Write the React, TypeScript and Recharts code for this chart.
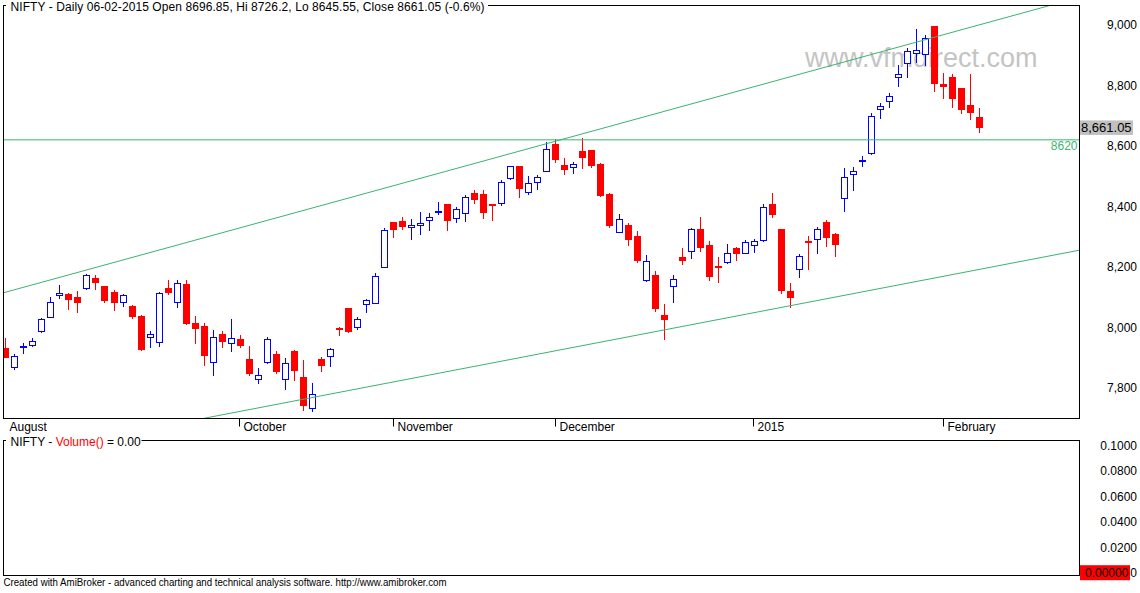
import React from "react";
import { ComposedChart, Bar, XAxis, YAxis, ReferenceLine } from "recharts";

// NIFTY daily bars, mid Aug 2014 -> 06 Feb 2015
const opens = [
  7930, 7870, 7934, 7940, 7989, 8035, 8108, 8111, 8100, 8131,
  8162, 8136, 8117, 8085, 8070, 8037, 7969, 7950, 8129, 8083,
  8143, 8014, 8004, 7884, 7978, 7947, 7961, 7895, 7828, 7884,
  7912, 7828, 7921, 7835, 7732, 7895, 7904, 7998, 8063, 8000,
  8076, 8081, 8200, 8347, 8352, 8331, 8338, 8354, 8380, 8407,
  8360, 8377, 8444, 8441, 8408, 8410, 8493, 8533, 8449, 8480,
  8518, 8606, 8537, 8529, 8583, 8585, 8540, 8441, 8316, 8338,
  8302, 8157, 8173, 8041, 8138, 8232, 8253, 8324, 8272, 8204,
  8215, 8262, 8245, 8271, 8287, 8408, 8324, 8120, 8192, 8285,
  8291, 8348, 8309, 8427, 8506, 8551, 8575, 8721, 8748, 8829,
  8873, 8906, 8903, 8996, 8805, 8827, 8791, 8735, 8696.85,
];
const highs = [
  7963, 7910, 7947, 7963, 8030, 8101, 8140, 8112, 8120, 8175,
  8173, 8137, 8123, 8110, 8074, 8041, 7987, 8116, 8156, 8156,
  8156, 8037, 8013, 7991, 7988, 8027, 7974, 7938, 7865, 7968,
  7921, 7898, 7925, 7890, 7815, 7901, 7931, 8000, 8065, 8033,
  8093, 8178, 8327, 8348, 8365, 8358, 8381, 8378, 8414, 8408,
  8398, 8436, 8454, 8454, 8409, 8487, 8534, 8534, 8500, 8504,
  8614, 8622, 8560, 8546, 8625, 8586, 8543, 8444, 8375, 8345,
  8319, 8239, 8186, 8077, 8173, 8262, 8327, 8365, 8285, 8232,
  8276, 8266, 8289, 8292, 8408, 8445, 8325, 8145, 8242, 8303,
  8333, 8355, 8313, 8526, 8530, 8567, 8708, 8741, 8774, 8868,
  8923, 8987, 8967, 8997, 8840, 8837, 8793, 8838, 8726.2,
];
const lows = [
  7900, 7863, 7916, 7939, 7985, 8034, 8096, 8060, 8052, 8127,
  8128, 8084, 8057, 8071, 8032, 7925, 7936, 7939, 8109, 8066,
  8010, 7949, 7875, 7842, 7935, 7921, 7936, 7842, 7817, 7883,
  7850, 7797, 7826, 7726, 7724, 7856, 7872, 7974, 7985, 7995,
  8052, 8080, 8199, 8300, 8326, 8293, 8307, 8323, 8374, 8322,
  8349, 8353, 8410, 8363, 8356, 8403, 8492, 8432, 8441, 8457,
  8517, 8548, 8508, 8511, 8528, 8529, 8435, 8333, 8315, 8272,
  8216, 8154, 8055, 7961, 8085, 8209, 8230, 8253, 8156, 8151,
  8214, 8224, 8244, 8250, 8285, 8366, 8112, 8066, 8167, 8193,
  8247, 8270, 8236, 8383, 8454, 8535, 8574, 8693, 8730, 8799,
  8829, 8879, 8866, 8780, 8757, 8730, 8708, 8688, 8645.55,
];
const closes = [
  7903, 7904, 7937, 7955, 8026, 8082, 8112, 8093, 8084, 8172,
  8151, 8090, 8084, 8107, 8038, 7928, 7978, 8112, 8118, 8145,
  8015, 7999, 7908, 7967, 7956, 7963, 7941, 7850, 7841, 7960,
  7856, 7881, 7860, 7744, 7778, 7875, 7927, 7993, 7989, 8026,
  8089, 8168, 8321, 8324, 8336, 8337, 8345, 8364, 8385, 8356,
  8390, 8430, 8425, 8382, 8406, 8479, 8532, 8462, 8476, 8496,
  8589, 8555, 8525, 8539, 8564, 8538, 8439, 8339, 8357, 8293,
  8224, 8219, 8065, 8028, 8159, 8224, 8324, 8267, 8171, 8202,
  8246, 8247, 8282, 8285, 8398, 8376, 8124, 8101, 8235, 8283,
  8324, 8300, 8277, 8496, 8516, 8553, 8699, 8732, 8765, 8837,
  8914, 8917, 8956, 8809, 8799, 8757, 8723, 8713, 8661.05,
];

const monthTicks = [0, 26, 43, 61, 83, 104];
const monthLabels = ["August", "October", "November", "December", "2015", "February"];
const priceTicks = [7800, 8000, 8200, 8400, 8600, 8800, 9000];
const volumeTicks = [0, 0.02, 0.04, 0.06, 0.08, 0.1];

// hand-drawn studies
const supportLevel = 8620;
const upperChannel = [
  { x: -0.2, y: 8114 },
  { x: 115.77, y: 9064 },
];
const lowerChannel = [
  { x: 22.1, y: 7699 },
  { x: 119.12, y: 8255 },
];
const lastVolume = 0;

const GREEN = "#3cb371";
const UP = "#0000ff";
const DOWN = "#ff0000";
const FONT = "Arial, 'Liberation Sans', sans-serif";

const X_DOMAIN: [number, number] = [-0.2, 119.12];

const candles = opens.map((open, i) => ({
  i,
  open,
  high: highs[i],
  low: lows[i],
  close: closes[i],
}));
const last = candles[candles.length - 1];
const prev = candles[candles.length - 2];
const pct = (((last.close - prev.close) / prev.close) * 100).toFixed(1);
const title = `NIFTY - Daily 06-02-2015 Open ${last.open}, Hi ${last.high}, Lo ${last.low}, Close ${last.close} (${pct}%)`;

const snap = (v: number) => Math.round(v) + 0.5;

function Candle(props: any) {
  const { x, y, width, height, payload } = props;
  const { open, close, high, low } = payload;
  const up = close >= open;
  const color = up ? UP : DOWN;
  const ratio = height / (high - low);
  const yOf = (v: number) => y + (high - v) * ratio;
  const cx = Math.round(x + width / 2) + 0.5;
  const top = snap(yOf(Math.max(open, close)));
  const bot = snap(yOf(Math.min(open, close)));
  return (
    <g>
      <line
        x1={cx}
        x2={cx}
        y1={Math.round(y)}
        y2={Math.round(y + height) + 1}
        stroke={color}
        strokeWidth={1}
      />
      <rect
        x={cx - 3}
        y={top}
        width={6}
        height={Math.max(bot - top, 1)}
        fill={up ? "#fff" : color}
        stroke={color}
        strokeWidth={1}
      />
    </g>
  );
}

function MonthTick(props: any) {
  const { x, y, payload } = props;
  const idx = monthTicks.indexOf(payload.value);
  const tx = Math.floor(x) + 0.5;
  return (
    <g>
      {payload.value !== 0 && (
        <line x1={tx} x2={tx} y1={y} y2={y + 8} stroke="#000" />
      )}
      <text x={tx + 4} y={y + 12.5} fontSize={12} fill="#000">
        {monthLabels[idx]}
      </text>
    </g>
  );
}

function PriceTick(props: any) {
  const { x, y, payload } = props;
  return (
    <text x={x + 57.5} y={y + 4.3} fontSize={12} fill="#000" textAnchor="end">
      {payload.value.toLocaleString("en-US")}
    </text>
  );
}

function VolumeTick(props: any) {
  const { x, y, payload } = props;
  const v: number = payload.value;
  return (
    <text x={x + 57.5} y={y + 4.3} fontSize={12} fill="#000" textAnchor="end">
      {v === 0 ? "0" : v.toFixed(4)}
    </text>
  );
}

function LastPriceBox(props: any) {
  const { viewBox } = props;
  const bx = viewBox.x + viewBox.width + 0.5;
  return (
    <g>
      <rect x={bx} y={viewBox.y - 7} width={53} height={14.5} fill="#c0c0c0" />
      <text x={bx + 1} y={viewBox.y + 4.6} fontSize={13} fill="#000">
        {last.close.toLocaleString("en-US", { minimumFractionDigits: 2 })}
      </text>
    </g>
  );
}

function VolumeBox(props: any) {
  const { viewBox } = props;
  const bx = viewBox.x + viewBox.width + 0.5;
  return (
    <g>
      <rect x={bx} y={viewBox.y - 7.5} width={50} height={15} fill={DOWN} />
      <text x={bx + 5} y={viewBox.y + 4.3} fontSize={12} fill="#000">
        {lastVolume.toFixed(5)}
      </text>
    </g>
  );
}

export default function App() {
  return (
    <div
      style={{
        position: "absolute",
        left: 0,
        top: 0,
        width: 1140,
        height: 593,
        background: "#fff",
        fontFamily: FONT,
        overflow: "hidden",
      }}
    >
      <svg width={1140} height={593} style={{ position: "absolute", left: 0, top: 0 }}>
        <text x={805} y={67} fontSize={27} fill="#c4c4c4">
          www.vfmdirect.com
        </text>
      </svg>

      <div style={{ position: "absolute", left: 0, top: 0 }}>
        <ComposedChart
          width={1140}
          height={437}
          data={candles}
          margin={{ top: 5.5, right: 0, left: 3.5, bottom: 0 }}
        >
          <XAxis
            dataKey="i"
            type="number"
            domain={X_DOMAIN}
            allowDataOverflow
            ticks={monthTicks}
            interval={0}
            height={18.5}
            axisLine={false}
            tickLine={false}
            tickSize={0}
            tickMargin={0}
            tick={(p: any) => <MonthTick {...p} />}
          />
          <YAxis
            orientation="right"
            type="number"
            domain={[7698, 9064.5]}
            allowDataOverflow
            ticks={priceTicks}
            width={60.5}
            axisLine={false}
            tickLine={false}
            tickSize={0}
            tickMargin={0}
            tick={(p: any) => <PriceTick {...p} />}
          />
          <ReferenceLine
            segment={upperChannel}
            stroke={GREEN}
            strokeWidth={1}
            ifOverflow="visible"
          />
          <ReferenceLine
            segment={lowerChannel}
            stroke={GREEN}
            strokeWidth={1}
            ifOverflow="visible"
          />
          <ReferenceLine
            y={supportLevel}
            stroke={GREEN}
            strokeWidth={1}
            label={{
              value: String(supportLevel),
              position: "insideTopRight",
              offset: 2,
              fill: GREEN,
              fontSize: 12,
            }}
          />
          <Bar
            dataKey={(d: any) => [d.low, d.high]}
            barSize={7}
            shape={(p: any) => <Candle {...p} />}
            isAnimationActive={false}
          />
          <ReferenceLine
            y={last.close}
            stroke="none"
            ifOverflow="visible"
            label={(p: any) => <LastPriceBox {...p} />}
          />
        </ComposedChart>
      </div>

      <div style={{ position: "absolute", left: 0, top: 437 }}>
        <ComposedChart
          width={1140}
          height={156}
          data={candles}
          margin={{ top: 3.5, right: 0, left: 3.5, bottom: 17.5 }}
        >
          <XAxis dataKey="i" type="number" domain={X_DOMAIN} allowDataOverflow hide />
          <YAxis
            orientation="right"
            type="number"
            domain={[-0.0022, 0.1041]}
            allowDataOverflow
            ticks={volumeTicks}
            width={60.5}
            axisLine={false}
            tickLine={false}
            tickSize={0}
            tickMargin={0}
            tick={(p: any) => <VolumeTick {...p} />}
          />
          <ReferenceLine
            y={lastVolume}
            stroke="none"
            ifOverflow="visible"
            label={(p: any) => <VolumeBox {...p} />}
          />
        </ComposedChart>
      </div>

      <svg
        width={1140}
        height={593}
        style={{ position: "absolute", left: 0, top: 0, pointerEvents: "none" }}
      >
        <rect x={3.5} y={5.5} width={1076} height={413} fill="none" stroke="#000" />
        <rect x={6} y={2} width={482} height={8} fill="#fff" />
        <text x={10.5} y={11.3} fontSize={12} fill="#000" textLength={474} lengthAdjust="spacing">
          {title}
        </text>
        <rect x={3.5} y={440.5} width={1076} height={135} fill="none" stroke="#000" />
        <rect x={6} y={437} width={135.5} height={8} fill="#fff" />
        <text x={10.5} y={446} fontSize={12} fill="#000">
          NIFTY - <tspan fill={DOWN}>Volume()</tspan> = 0.00
        </text>
        <text x={3.5} y={585.7} fontSize={10} fill="#000" textLength={443} lengthAdjust="spacingAndGlyphs">
          Created with AmiBroker - advanced charting and technical analysis software. http://www.amibroker.com
        </text>
      </svg>
    </div>
  );
}
